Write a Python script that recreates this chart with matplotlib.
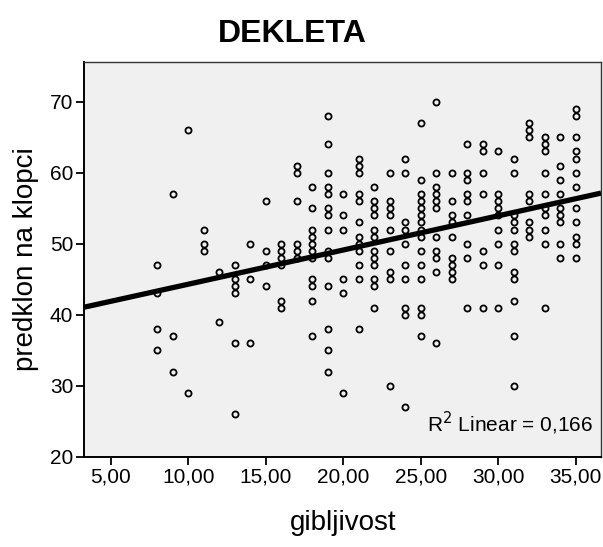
import numpy as np
import matplotlib
matplotlib.use("Agg")
import matplotlib.pyplot as plt

plt.rcParams['font.family'] = ['Liberation Sans', 'DejaVu Sans']

# gibljivost value -> list of predklon na klopci values
gib_levels = list(range(8, 36))
predklon = {
    8: [47, 43, 38, 35],
    9: [57, 37, 32],
    10: [66, 29],
    11: [52, 50, 49],
    12: [46, 39],
    13: [47, 45, 44, 43, 36, 26],
    14: [50, 45, 36],
    15: [56, 49, 47, 44],
    16: [50, 49, 48, 47, 42, 41],
    17: [61, 60, 56, 50, 49, 48],
    18: [58, 55, 52, 51, 50, 49, 48, 45, 44, 42, 37],
    19: [68, 64, 60, 58, 57, 55, 54, 52, 49, 48, 44, 38, 35, 32],
    20: [57, 54, 52, 45, 43, 29],
    21: [62, 61, 60, 57, 56, 53, 51, 50, 49, 47, 45, 38],
    22: [58, 56, 55, 54, 52, 51, 49, 48, 47, 45, 44, 41],
    23: [60, 56, 55, 54, 52, 49, 46, 45, 30],
    24: [62, 60, 53, 52, 50, 47, 45, 41, 40, 27],
    25: [67, 59, 57, 56, 55, 54, 53, 52, 51, 49, 47, 45, 41, 40, 37],
    26: [70, 60, 58, 57, 56, 55, 51, 49, 48, 46, 36],
    27: [60, 56, 54, 53, 51, 48, 47, 46, 45],
    28: [64, 60, 59, 57, 56, 54, 50, 48, 41],
    29: [64, 63, 60, 57, 49, 47, 41],
    30: [63, 57, 56, 55, 54, 52, 50, 47, 41],
    31: [62, 60, 54, 53, 52, 50, 49, 46, 45, 42, 37, 30],
    32: [67, 66, 65, 57, 56, 53, 52, 51],
    33: [65, 64, 63, 60, 57, 55, 54, 52, 50, 41],
    34: [65, 61, 59, 57, 55, 54, 53, 50, 48],
    35: [69, 68, 65, 63, 62, 60, 58, 55, 53, 51, 50, 48],
}
x_ticks = [5, 10, 15, 20, 25, 30, 35]
x_tick_labels = ["5,00", "10,00", "15,00", "20,00", "25,00", "30,00", "35,00"]
y_ticks = [20, 30, 40, 50, 60, 70]
title = "DEKLETA"
x_label = "gibljivost"
y_label = "predklon na klopci"
r2_text = "R$^2$ Linear = 0,166"

xs = np.array([g for g in gib_levels for _ in predklon[g]], dtype=float)
ys = np.array([v for g in gib_levels for v in predklon[g]], dtype=float)

fig = plt.figure(figsize=(6.03, 5.47), dpi=100)
ax = fig.add_axes([0.1398, 0.165, 0.857, 0.7217])
ax.set_facecolor('#F0F0F0')

xlim = (3.3, 36.63)
ylim = (20, 75.6)
ax.set_xlim(*xlim)
ax.set_ylim(*ylim)

# regression line
b, a = np.polyfit(xs, ys, 1)
lx = np.array(xlim)
ax.plot(lx, a + b * lx, color='black', lw=3.8, zorder=2, solid_capstyle='butt')

ax.plot(xs, ys, linestyle='none', marker='o', markersize=4.4,
        markerfacecolor='none', markeredgecolor='black', markeredgewidth=1.3, zorder=3)

ax.set_xticks(x_ticks)
ax.set_xticklabels(x_tick_labels)
ax.set_yticks(y_ticks)
ax.tick_params(axis='both', direction='out', length=6, width=1.3, labelsize=15, colors='black', pad=2)

for s in ['left', 'bottom']:
    ax.spines[s].set_color('black')
    ax.spines[s].set_linewidth(1.4)
for s in ['top', 'right']:
    ax.spines[s].set_color('#333333')
    ax.spines[s].set_linewidth(1.0)

ax.set_xlabel(x_label, fontsize=20, labelpad=17)
ax.set_ylabel(y_label, fontsize=20, labelpad=8)

ax.text(0.985, 0.05, r2_text, transform=ax.transAxes, ha='right', va='bottom', fontsize=15)

fig.text(0.484, 0.938, title, ha='center', va='center', fontsize=23, fontweight='bold')

fig.savefig('out.png', dpi=100)
